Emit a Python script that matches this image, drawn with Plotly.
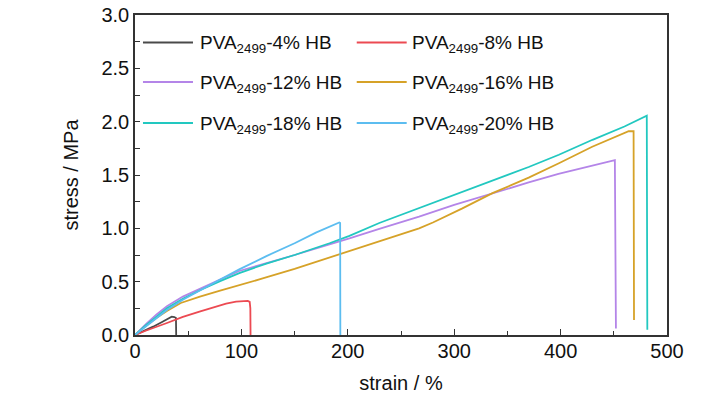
import plotly.graph_objects as go

# ---- data (strain %, stress MPa) ----
labels = ["PVA<sub>2499</sub>-4% HB", "PVA<sub>2499</sub>-8% HB", "PVA<sub>2499</sub>-12% HB",
          "PVA<sub>2499</sub>-16% HB", "PVA<sub>2499</sub>-18% HB", "PVA<sub>2499</sub>-20% HB"]
colors = ["#4a4a4a", "#ec4a52", "#b485e8", "#d6a228", "#22c8c0", "#5cbdf0"]

strain_4 = [0, 5, 10, 17, 25, 31, 34.5, 37, 38.5, 38.7]
stress_4 = [0, 0.022, 0.046, 0.078, 0.12, 0.155, 0.172, 0.168, 0.16, 0.0]

strain_8 = [0, 10, 29.4, 45, 60.6, 75, 85.6, 95, 101, 106, 107.8, 108.4, 108.6]
stress_8 = [0, 0.04, 0.11, 0.17, 0.22, 0.265, 0.295, 0.313, 0.32, 0.32, 0.31, 0.25, 0.0]

strain_12 = [0, 10, 20, 30, 45, 61, 80, 98, 123.5, 150, 182.8, 201.5, 229.6, 267, 300,
             323, 342, 370, 398, 430, 451, 452]
stress_12 = [0, 0.10, 0.19, 0.27, 0.36, 0.43, 0.52, 0.60, 0.67, 0.75, 0.85, 0.905, 0.995,
             1.11, 1.22, 1.29, 1.35, 1.43, 1.51, 1.585, 1.64, 0.06]

strain_16 = [0, 10, 20, 30, 43, 61, 80, 100, 120, 150, 190, 229.6, 245, 267, 280, 307.7,
             336, 370, 398.4, 429.7, 464, 468.6, 469]
stress_16 = [0, 0.085, 0.16, 0.225, 0.30, 0.36, 0.415, 0.47, 0.53, 0.62, 0.75, 0.875, 0.93,
             1.0, 1.055, 1.187, 1.33, 1.475, 1.61, 1.765, 1.91, 1.91, 0.14]

strain_18 = [0, 10, 20, 30, 45, 61, 80, 98, 123.5, 150, 182.8, 201.5, 229.6, 267, 276.5,
             300, 323.4, 342, 370, 398.4, 430, 460, 481, 481.5]
stress_18 = [0, 0.09, 0.17, 0.25, 0.34, 0.42, 0.505, 0.58, 0.67, 0.75, 0.86, 0.93, 1.05,
             1.19, 1.23, 1.32, 1.406, 1.47, 1.575, 1.69, 1.83, 1.955, 2.055, 0.05]

strain_20 = [0, 10, 20, 30, 45, 61, 80, 98, 123.5, 150, 170, 192, 192.8, 193.0]
stress_20 = [0, 0.08, 0.16, 0.235, 0.33, 0.42, 0.52, 0.615, 0.74, 0.86, 0.96, 1.055, 1.05, 0.0]

xs = [strain_4, strain_8, strain_12, strain_16, strain_18, strain_20]
ys = [stress_4, stress_8, stress_12, stress_16, stress_18, stress_20]

FONT = "Liberation Sans, Arial, sans-serif"

fig = go.Figure()
for x, y, c, lab in zip(xs, ys, colors, labels):
    fig.add_trace(go.Scatter(x=x, y=y, mode="lines", name=lab,
                             line=dict(color=c, width=1.8), showlegend=False))

# manual legend (two columns, three rows)
rows_y = [0.9141, 0.7906, 0.6625]
cols_x = [(0.015, 0.109, 0.1184), (0.4168, 0.5107, 0.5164)]
for i, (lab, c) in enumerate(zip(labels, colors)):
    r, col = divmod(i, 2)
    x0, x1, xt = cols_x[col]
    yy = rows_y[r]
    fig.add_shape(type="line", xref="paper", yref="paper", x0=x0, x1=x1, y0=yy, y1=yy,
                  line=dict(color=c, width=1.8))
    fig.add_annotation(xref="paper", yref="paper", x=xt, y=yy, text=lab, showarrow=False,
                       xanchor="left", yanchor="middle", font=dict(size=19, color="#111"),
                       yshift=-2)

axis_common = dict(showgrid=False, zeroline=False, showline=True, linecolor="#333",
                   linewidth=1.5, mirror=True, ticks="inside", tickcolor="#333",
                   automargin=False, ticklabeloverflow="allow",
                   tickfont=dict(size=20, color="#111"))
fig.update_xaxes(range=[0, 500], dtick=100, ticklen=6, tickwidth=1.2,
                 minor=dict(dtick=50, ticks="inside", ticklen=4, tickcolor="#333"),
                 ticklabelstandoff=-3,
                 title=dict(text="strain / %", font=dict(size=20, color="#111"), standoff=15),
                 **axis_common)
fig.update_yaxes(range=[0, 3], dtick=0.5, tickformat=".1f", ticklen=5, tickwidth=1.2,
                 minor=dict(dtick=0.25, ticks="inside", ticklen=5, tickcolor="#333"),
                 title=dict(text="stress / MPa", font=dict(size=20, color="#111"), standoff=17),
                 **axis_common)

fig.update_layout(width=728, height=399, margin=dict(l=127, r=69, t=7, b=72),
                  paper_bgcolor="white", plot_bgcolor="white",
                  font=dict(family=FONT, size=20, color="#111"))

fig.write_html("out.html")
